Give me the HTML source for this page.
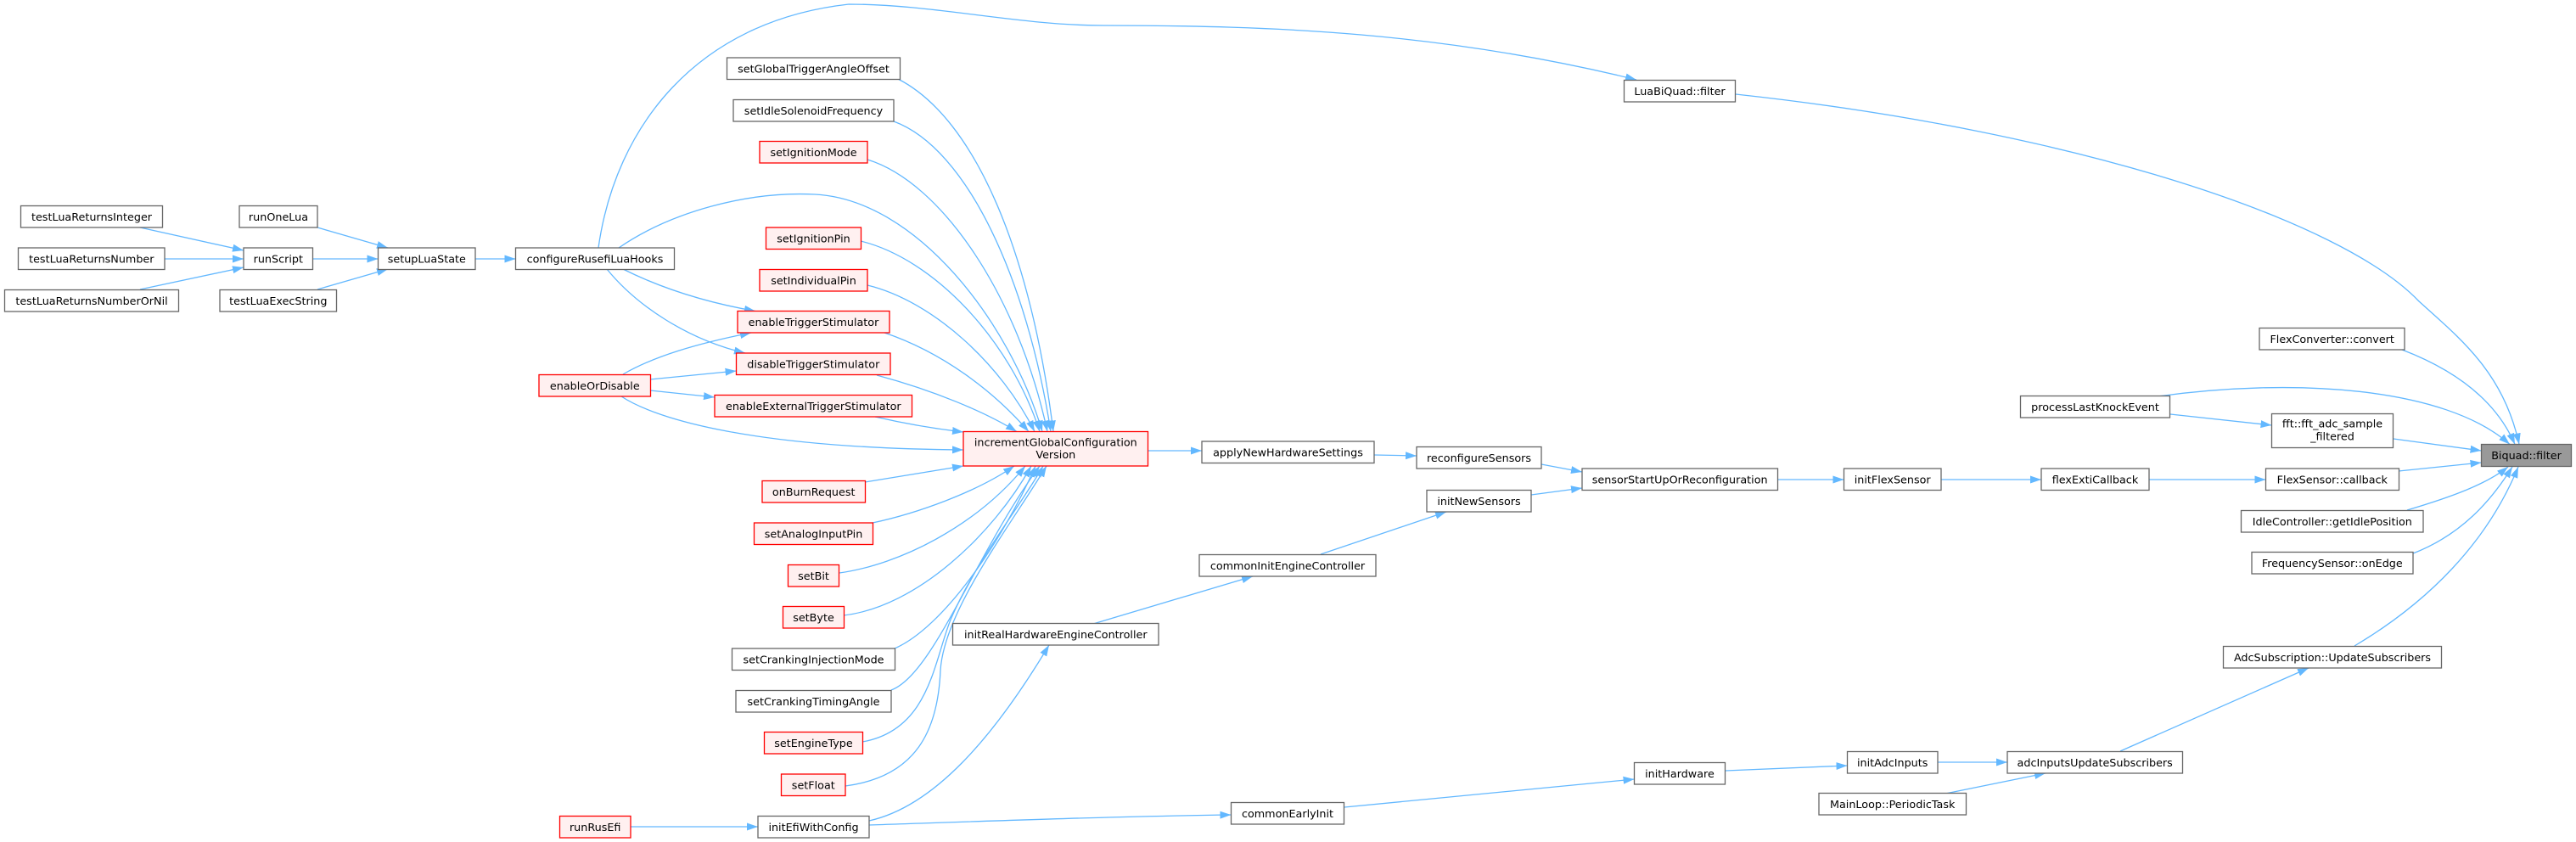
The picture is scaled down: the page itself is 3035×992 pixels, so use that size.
<!DOCTYPE html>
<html><head><meta charset="utf-8"><style>
html,body{margin:0;padding:0;background:#fff;}
svg{display:block;}
.e path{fill:none;stroke:#63b8ff;stroke-width:1.3;}
.n rect{fill:#fff;stroke:#666;stroke-width:1.3;}
.n rect.r{fill:#fff0f0;stroke:#ff0000;}
.n rect.g{fill:#999;stroke:#666;}
.n text{font-family:"DejaVu Sans","Liberation Sans",sans-serif;font-size:12.75px;fill:#000;text-anchor:middle;}
</style></head><body>
<svg width="3035" height="992" viewBox="0 0 3035 992" xmlns="http://www.w3.org/2000/svg">
<defs>
<marker id="a" markerUnits="userSpaceOnUse" markerWidth="14" markerHeight="10" refX="13" refY="5" orient="auto">
<path d="M0,0.5L13,5L0,9.5z" fill="#63b8ff"/>
</marker>
</defs>
<g class="e" marker-end="url(#a)">
<path d="M165,268 L287,295"/>
<path d="M194,305 L287,305"/>
<path d="M165,341 L287,315"/>
<path d="M369,305 L445.5,305"/>
<path d="M374,268 L457,292"/>
<path d="M374,341 L457,317"/>
<path d="M560,305 L607.5,305"/>
<path d="M705,292 C725,150 820,25 1000,5 C1100,5 1200,30 1300,30 C1500,30 1700,38 1928,94"/>
<path d="M729,292 C790,250 880,225 960,229 C1080,235 1190,380 1228,508.5"/>
<path d="M734,317 C780,340 830,356 890,366.5"/>
<path d="M715,317 C750,360 810,400 878,416"/>
<path d="M734,441 C770,420 820,405 885,392"/>
<path d="M766,447 L867.5,437"/>
<path d="M766,460 L842,468"/>
<path d="M732,467 C775,495 890,528 1135,530"/>
<path d="M1058,93 C1150,140 1215,300 1241,508.5"/>
<path d="M1053,143 C1140,175 1210,330 1238,508.5"/>
<path d="M1022,188 C1110,215 1200,350 1234,508.5"/>
<path d="M1014,284 C1100,305 1190,400 1225,508.5"/>
<path d="M1022,336 C1100,355 1180,430 1219,508.5"/>
<path d="M1042,392 C1110,415 1170,460 1212,508.5"/>
<path d="M1033,442 C1100,460 1160,485 1198,508.5"/>
<path d="M1031,491 C1070,500 1100,505 1135,509"/>
<path d="M1019,568 L1135,549"/>
<path d="M1028,616 C1080,605 1150,580 1195,549"/>
<path d="M989,675 C1060,665 1150,620 1208,549"/>
<path d="M994,725 C1080,715 1170,630 1215,549"/>
<path d="M1054,764 C1110,740 1180,640 1220,549"/>
<path d="M1050,813 C1100,795 1150,650 1225,549"/>
<path d="M1016,874 C1095,860 1100,780 1120,730 C1150,660 1200,600 1229,549"/>
<path d="M996,926 C1080,915 1105,860 1108,790 C1112,720 1190,620 1233,549"/>
<path d="M1024,967 C1100,950 1170,870 1236,760"/>
<path d="M1024,972 C1150,968 1300,962 1450.5,960"/>
<path d="M743,974 L893,974"/>
<path d="M1288,735 L1476,679"/>
<path d="M1353,531 L1416,531"/>
<path d="M1619,536 L1669,537"/>
<path d="M1816,547 L1864,556"/>
<path d="M1804,583 L1864,575"/>
<path d="M1556,653 L1704,603"/>
<path d="M1584,951 L1925.5,918"/>
<path d="M2033,908 L2176.5,902"/>
<path d="M2283,898 L2365,898"/>
<path d="M2292,935 L2410,911"/>
<path d="M2498,885 L2720,787"/>
<path d="M2094.5,565 L2172.5,565"/>
<path d="M2287,565 L2405,565"/>
<path d="M2532,565 L2669.5,565"/>
<path d="M2557,488 L2676.5,501"/>
<path d="M2542,467 C2700,445 2880,455 2957,523.5"/>
<path d="M2045,111 C2450,155 2760,260 2850,355 C2900,400 2950,440 2968,523.5"/>
<path d="M2830,412 C2890,435 2940,470 2963,523.5"/>
<path d="M2820,517 L2923.5,531"/>
<path d="M2826,555 L2923.5,545"/>
<path d="M2836,601 C2890,585 2930,570 2955,550"/>
<path d="M2843,652 C2900,630 2935,590 2960,550"/>
<path d="M2774,761 C2860,710 2930,640 2967,550"/>
</g>
<g class="n">
<rect x="24.5" y="242.5" width="167" height="25.5"/><text x="108" y="260">testLuaReturnsInteger</text>
<rect x="21.5" y="292" width="172.5" height="25.5"/><text x="107.8" y="309.3">testLuaReturnsNumber</text>
<rect x="5.5" y="341.5" width="205" height="25.5"/><text x="108" y="358.8">testLuaReturnsNumberOrNil</text>
<rect x="282" y="242.5" width="92" height="25.5"/><text x="328" y="260">runOneLua</text>
<rect x="287" y="292" width="81.5" height="25.5"/><text x="327.8" y="309.3">runScript</text>
<rect x="259" y="341.5" width="137.5" height="25.5"/><text x="327.8" y="358.8">testLuaExecString</text>
<rect x="445.5" y="292" width="114.5" height="25.5"/><text x="502.8" y="309.3">setupLuaState</text>
<rect x="607.5" y="292" width="187" height="25.5"/><text x="701" y="309.3">configureRusefiLuaHooks</text>
<rect class="r" x="635" y="441.5" width="131.5" height="25.5"/><text x="700.8" y="458.8">enableOrDisable</text>

<rect x="856.5" y="68" width="204" height="25.5"/><text x="958.5" y="85.3">setGlobalTriggerAngleOffset</text>
<rect x="864" y="117.5" width="189" height="25.5"/><text x="958.5" y="134.8">setIdleSolenoidFrequency</text>
<rect class="r" x="895" y="166.5" width="127" height="25.5"/><text x="958.5" y="183.8">setIgnitionMode</text>
<rect class="r" x="902.5" y="268" width="112" height="25.5"/><text x="958.5" y="285.3">setIgnitionPin</text>
<rect class="r" x="895" y="317.5" width="127" height="25.5"/><text x="958.5" y="334.8">setIndividualPin</text>
<rect class="r" x="869" y="366.5" width="179" height="25.5"/><text x="958.5" y="383.8">enableTriggerStimulator</text>
<rect class="r" x="867.5" y="416" width="181.5" height="25.5"/><text x="958.3" y="433.3">disableTriggerStimulator</text>
<rect class="r" x="842" y="465.5" width="232.5" height="25.5"/><text x="958.3" y="482.8">enableExternalTriggerStimulator</text>
<rect class="r" x="898" y="566.5" width="121.5" height="25.5"/><text x="958.7" y="583.8">onBurnRequest</text>
<rect class="r" x="888.5" y="616" width="140" height="25.5"/><text x="958.5" y="633.3">setAnalogInputPin</text>
<rect class="r" x="928.5" y="665.5" width="60" height="25.5"/><text x="958.5" y="682.8">setBit</text>
<rect class="r" x="922.5" y="714.5" width="72" height="25.5"/><text x="958.5" y="731.8">setByte</text>
<rect x="862.5" y="764" width="192" height="25.5"/><text x="958.5" y="781.3">setCrankingInjectionMode</text>
<rect x="867" y="813.5" width="183" height="25.5"/><text x="958.5" y="830.8">setCrankingTimingAngle</text>
<rect class="r" x="900.5" y="862.5" width="116" height="25.5"/><text x="958.5" y="879.8">setEngineType</text>
<rect class="r" x="920.5" y="912" width="75.5" height="25.5"/><text x="958.3" y="929.3">setFloat</text>
<rect class="r" x="659.5" y="961.5" width="83.5" height="25.5"/><text x="701.2" y="978.8">runRusEfi</text>
<rect x="893" y="961.5" width="131" height="25.5"/><text x="958.5" y="978.8">initEfiWithConfig</text>

<rect class="r" x="1135" y="508.5" width="217.5" height="40.5"/><text x="1243.8" y="525.3">incrementGlobalConfiguration</text><text x="1243.8" y="540">Version</text>
<rect x="1122.5" y="734.5" width="242.5" height="25.5"/><text x="1243.8" y="751.8">initRealHardwareEngineController</text>
<rect x="1416" y="520" width="203" height="25.5"/><text x="1517.5" y="537.3">applyNewHardwareSettings</text>
<rect x="1669" y="526.5" width="147" height="25.5"/><text x="1742.5" y="543.8">reconfigureSensors</text>
<rect x="1681" y="577.5" width="123" height="25.5"/><text x="1742.5" y="594.8">initNewSensors</text>
<rect x="1413" y="653.5" width="208" height="25.5"/><text x="1517" y="670.8">commonInitEngineController</text>
<rect x="1450.5" y="945.5" width="133" height="25.5"/><text x="1517" y="962.8">commonEarlyInit</text>
<rect x="1925.5" y="898.5" width="107" height="25.5"/><text x="1979" y="915.8">initHardware</text>
<rect x="1864" y="552" width="230.5" height="25.5"/><text x="1979.2" y="569.3">sensorStartUpOrReconfiguration</text>
<rect x="1913.5" y="94.5" width="131" height="25.5"/><text x="1979" y="111.8">LuaBiQuad::filter</text>
<rect x="2172.5" y="552" width="114.5" height="25.5"/><text x="2229.7" y="569.3">initFlexSensor</text>
<rect x="2176.5" y="885.5" width="106.5" height="25.5"/><text x="2229.7" y="902.8">initAdcInputs</text>
<rect x="2143" y="934.5" width="173.5" height="25.5"/><text x="2229.7" y="951.8">MainLoop::PeriodicTask</text>
<rect x="2405" y="552" width="127" height="25.5"/><text x="2468.5" y="569.3">flexExtiCallback</text>
<rect x="2380.5" y="466.5" width="176" height="25.5"/><text x="2468.5" y="483.8">processLastKnockEvent</text>
<rect x="2365" y="885.5" width="206.5" height="25.5"/><text x="2468.2" y="902.8">adcInputsUpdateSubscribers</text>

<rect x="2662" y="386.5" width="171" height="25.5"/><text x="2747.7" y="403.8">FlexConverter::convert</text>
<rect x="2676.5" y="487.5" width="143" height="40"/><text x="2748" y="503.5">fft::fft_adc_sample</text><text x="2748" y="518.3">_filtered</text>
<rect x="2669.5" y="552" width="157" height="25.5"/><text x="2747.8" y="569.3">FlexSensor::callback</text>
<rect x="2640.5" y="601.5" width="214.5" height="25.5"/><text x="2747.8" y="618.8">IdleController::getIdlePosition</text>
<rect x="2653" y="650.5" width="190" height="25.5"/><text x="2747.8" y="667.8">FrequencySensor::onEdge</text>
<rect x="2619.5" y="761.5" width="257" height="25.5"/><text x="2748" y="778.8">AdcSubscription::UpdateSubscribers</text>
<rect class="g" x="2923.5" y="523.5" width="106" height="26"/><text x="2976.5" y="541">Biquad::filter</text>
</g>
</svg>
</body></html>
